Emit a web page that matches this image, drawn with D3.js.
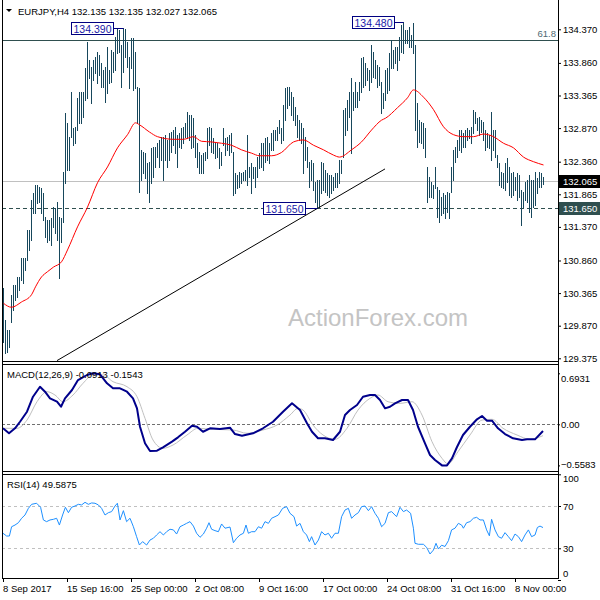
<!DOCTYPE html>
<html><head><meta charset="utf-8">
<script src="https://cdn.jsdelivr.net/npm/d3@7"></script>
<style>
body{margin:0;background:#fff}
svg{display:block}
text{font-family:"Liberation Sans",Arial,sans-serif}
</style>
</head><body>
<svg id="c" width="600" height="600"></svg>
<script>
// ---------- DATA ----------
const symbolTitle = "EURJPY,H4";
const lastOHLC = ["132.135","132.135","132.027","132.065"];
const highs = [
130.44,129.96,129.81,129.81,130.34,130.49,130.49,130.61,130.61,130.90,
130.90,130.90,131.32,131.32,131.78,131.89,132.01,132.01,131.98,131.96,
131.89,131.52,131.48,131.48,131.51,131.67,131.66,131.75,131.52,131.51,
132.20,133.10,132.95,132.74,133.42,132.87,132.89,133.33,133.42,133.42,
133.42,133.78,134.18,133.90,133.80,133.90,133.95,134.03,133.98,133.86,
133.75,133.80,134.10,133.75,134.06,134.03,134.25,134.37,134.36,134.13,
134.39,134.38,134.18,133.95,134.24,134.24,134.03,133.49,133.48,132.54,
132.51,132.49,132.34,132.36,132.57,132.58,132.58,132.64,132.69,132.74,
132.74,132.77,132.69,132.80,132.81,132.84,132.89,132.77,132.80,132.87,
132.89,132.95,133.12,133.07,133.07,133.02,132.77,132.64,132.51,132.46,
132.49,132.51,132.87,132.89,132.87,132.72,132.66,132.64,132.57,132.51,
132.87,132.72,132.74,132.77,132.80,132.51,132.19,132.16,132.20,132.19,
132.20,132.23,132.77,132.28,132.34,132.28,132.28,132.43,132.49,132.64,
132.64,132.72,132.74,132.64,132.80,132.84,132.84,132.89,132.99,
132.87,133.22,133.48,133.49,133.49,133.42,133.34,133.19,133.07,132.99,
132.95,132.87,132.74,132.58,132.36,132.39,132.34,132.05,132.08,132.08,
132.36,132.34,132.23,132.19,132.16,132.16,132.13,132.19,132.19,132.39,
132.39,133.15,133.18,133.30,133.42,133.63,133.42,133.57,133.42,133.57,
133.93,133.95,133.86,133.78,133.75,134.13,134.03,133.90,133.83,133.80,
133.57,133.40,133.75,133.78,134.01,134.21,134.06,134.10,134.10,134.25,
134.44,134.48,134.36,134.36,134.41,134.28,134.47,134.13,133.25,132.99,
132.96,132.95,132.87,132.28,132.13,132.05,132.01,132.28,131.98,131.93,
131.82,131.89,131.86,131.90,131.89,132.28,132.54,132.58,132.69,132.84,
132.84,132.80,132.84,132.87,132.84,132.89,133.15,133.11,133.02,133.04,
132.99,132.96,132.84,132.80,132.77,133.11,132.84,132.84,132.46,132.34,
132.20,132.19,132.34,132.42,132.28,132.19,132.20,132.13,132.19,132.16,
131.93,131.90,132.05,132.08,132.16,132.08,132.08,132.20,132.11,132.20,
132.19,132.135];
const lows = [
129.62,129.46,129.47,129.55,129.93,130.11,130.26,130.31,130.41,130.56,
130.52,130.72,130.87,131.02,131.17,131.58,131.58,131.73,131.75,131.58,
131.48,131.22,131.14,131.17,131.10,131.37,131.28,131.17,130.59,131.14,
131.45,132.04,132.23,132.23,132.74,132.61,132.64,132.84,132.95,132.95,
133.04,133.30,133.33,133.63,133.25,133.60,133.71,133.56,133.68,133.49,
133.49,133.27,133.40,133.56,133.57,133.72,133.75,134.01,134.03,133.49,
133.72,133.95,133.80,133.48,133.78,133.45,133.48,132.95,131.90,132.08,
132.19,132.11,131.89,131.75,132.04,132.13,132.28,132.43,132.28,132.39,
132.08,132.39,132.28,132.39,132.51,132.61,132.49,132.28,132.58,132.57,
132.64,132.74,132.72,132.69,132.57,132.58,132.43,132.28,132.19,132.19,
132.19,132.39,132.42,132.61,132.51,132.49,132.42,132.43,132.26,132.31,
132.61,132.46,132.54,132.46,132.51,131.86,131.89,131.96,131.98,132.04,
132.08,132.08,132.01,132.13,131.89,132.11,131.98,132.13,132.26,132.28,
132.23,132.36,132.39,132.34,132.54,132.54,132.69,132.69,132.80,
132.64,132.69,132.99,133.18,133.22,133.07,132.99,132.92,132.74,132.69,
132.64,132.19,132.39,132.28,131.98,132.08,131.93,131.75,131.65,131.67,
131.89,131.93,131.90,131.86,131.82,131.89,131.93,131.98,131.98,132.04,
132.19,132.43,132.77,132.84,133.04,132.49,133.15,133.19,133.19,133.30,
133.42,133.49,133.52,133.60,133.45,133.57,133.65,133.63,133.49,133.52,
133.10,133.18,133.30,133.40,133.45,133.78,133.78,133.86,133.75,133.90,
134.03,134.01,134.16,134.16,134.10,134.10,134.01,132.84,132.58,132.66,
132.64,132.57,132.43,131.75,131.82,131.82,131.81,131.96,131.52,131.45,
131.55,131.58,131.51,131.60,131.51,131.90,132.08,132.36,132.43,132.54,
132.51,132.58,132.58,132.69,132.72,132.64,132.80,132.95,132.84,132.77,
132.81,132.69,132.54,132.58,132.57,132.39,132.54,132.43,132.28,132.01,
131.98,131.96,131.93,132.05,131.86,131.82,131.86,131.93,131.78,131.82,
131.40,131.67,131.78,131.75,131.60,131.52,131.67,131.70,131.89,131.98,
131.98,132.027];

// moving average (sampled at bar positions)
const maIdx = [0,4,9,14,16,19,22,25,29,32,37,42,47,52,57,62,66,68,73,77,85,90,95,99,104,109,114,119,124,128,134,139,145,150,155,160,165,168,174,179,184,189,191,197,202,205,210,215,220,225,230,235,240,245,250,255,260,265,270];
const maVal = [130.21,130.15,130.23,130.34,130.46,130.61,130.69,130.76,130.84,131.02,131.37,131.67,132.04,132.28,132.57,132.77,132.95,132.92,132.81,132.74,132.70,132.70,132.74,132.67,132.66,132.64,132.61,132.54,132.49,132.45,132.45,132.50,132.66,132.69,132.61,132.54,132.46,132.43,132.54,132.66,132.84,132.99,133.02,133.18,133.33,133.45,133.34,133.15,132.89,132.77,132.74,132.74,132.78,132.74,132.64,132.57,132.43,132.36,132.31];

// MACD main line and signal
const macdIdx = [0,3,6,8.5,12,15,18.5,21,23.5,27,29,31,34.5,37.5,42,45,48.5,52,55,58.5,62,65,67,68.5,71,73.5,77,80,84.5,87.5,91,94.5,97,100,103.5,108.5,113.5,116,119.5,125,130,135,140,144.5,148.5,152,154.5,157.5,161,165,168.5,171,173.5,177,180,183.5,186,188.5,191,193.5,196,199.5,202.5,205,207.5,211,213.5,216,219.5,222,224.5,227,230,233.5,237,239.5,242,244.5,247.5,251,255,259.5,262,266,270];
const macdVal = [-0.054,-0.122,-0.054,0.035,0.171,0.375,0.511,0.443,0.353,0.307,0.239,0.353,0.466,0.602,0.670,0.693,0.680,0.557,0.489,0.489,0.443,0.353,0.217,-0.033,-0.258,-0.363,-0.359,-0.313,-0.236,-0.177,-0.101,-0.019,-0.033,-0.101,-0.054,-0.064,-0.046,-0.132,-0.155,-0.122,-0.054,0.035,0.171,0.285,0.194,0.014,-0.101,-0.190,-0.190,-0.213,-0.101,0.126,0.194,0.262,0.375,0.398,0.398,0.330,0.217,0.239,0.285,0.330,0.330,0.194,-0.033,-0.258,-0.417,-0.485,-0.558,-0.558,-0.462,-0.308,-0.145,-0.033,0.068,0.113,0.049,0.049,-0.054,-0.132,-0.190,-0.213,-0.204,-0.204,-0.091];
const sigIdx = [0,7,12,17,22,26,30,35,40,45,50,55,62,67,71,75,80,85,92,97.5,105,115,122,130,137,143.5,147.5,150,155,160,166,172,177.5,183.5,187.5,192.5,198.5,204.5,209.5,214.5,219.5,222.5,227.5,233.5,239.5,244.5,250,257,263.5,270];
const sigVal = [-0.054,-0.054,0.058,0.307,0.443,0.398,0.307,0.398,0.557,0.670,0.670,0.579,0.511,0.375,0.082,-0.213,-0.326,-0.281,-0.145,-0.054,-0.068,-0.077,-0.122,-0.077,-0.010,0.126,0.217,0.194,-0.010,-0.145,-0.204,-0.054,0.194,0.353,0.398,0.307,0.285,0.307,0.126,-0.236,-0.462,-0.539,-0.372,-0.145,0.058,0.068,-0.054,-0.145,-0.204,-0.154];

// RSI(14)
const rsiIdx = [0,1.8,3.2,4.3,6,7.7,9.3,11,12.7,14.3,16.8,18.8,20.2,21.8,23.5,25.2,26.8,28.2,29.8,31.2,32.7,34.3,36,37.7,39.3,41,42.7,44.3,46,47.7,49.3,51,52.7,54.3,56,57.2,58.5,60.2,61.8,63.5,65.2,66.8,68.2,69.8,71.8,73.5,75.2,76.8,78.5,80.2,81.8,83.5,85.2,86.8,88.5,90.2,91.8,93.5,95.2,96.8,98.5,100.2,101.8,103,104.3,106,107.7,109.3,111,113.5,115.2,116.8,118.5,120.2,121.5,122.7,124.3,126,127.7,129.3,131,132.7,134.3,136,137.7,139.8,141.8,143.5,145.5,146.8,148.5,150.2,151.8,153.2,154.3,156,157.7,159.3,161,162.7,164.3,166,167.7,169.3,171,172.7,174.3,176,177.7,179.3,181,182.7,184.3,186,187.7,189.3,191,192.7,194.3,196.8,198.5,200.2,201.8,203.8,205.2,206,207.7,210.2,211.8,213.5,215.2,216.5,217.7,219.3,221,222.7,224.3,226,227.7,229.3,230.2,231.8,233.5,235.2,236.8,238.5,240.2,241.8,243.2,244.3,246,247.7,249.3,251,252.7,254.3,256,257.7,259.3,261,262.7,264.3,266,267.2,268.5,270];
const rsiVal = [44.2,41.6,41.6,50.4,52.0,54.2,58.4,61.5,67.8,71.6,72.6,68.8,56.8,55.2,56.8,57.4,58.4,52.0,61.5,68.8,63.7,68.8,70.0,71.6,71.0,73.5,71.6,72.9,72.6,71.0,67.8,61.5,63.7,64.7,70.0,72.6,56.8,65.6,55.2,58.4,50.4,41.0,33.1,36.3,33.1,37.8,39.5,42.6,45.7,42.6,45.7,48.0,47.4,43.5,50.4,52.0,53.6,55.2,51.0,44.2,40.4,43.5,49.0,54.2,48.0,46.7,45.7,53.0,49.0,50.1,35.3,39.5,42.6,44.2,52.0,44.2,45.7,45.7,50.4,49.0,55.2,53.6,58.4,59.9,61.5,67.8,69.4,63.1,59.9,51.0,53.6,45.7,42.6,36.3,41.0,33.1,37.8,45.7,42.6,44.2,39.5,44.2,44.2,59.9,66.2,67.8,58.4,61.5,63.7,69.4,70.0,65.6,69.4,63.1,58.4,50.4,53.6,63.7,64.7,59.9,68.8,64.7,66.2,63.1,49.0,34.7,33.8,33.8,30.9,24.6,28.3,34.7,29.3,32.9,31.7,37.2,47.4,49.0,53.6,52.0,49.0,54.2,55.2,58.4,59.3,56.8,56.8,47.4,41.8,57.4,47.4,41.0,39.5,44.8,41.0,37.2,43.5,41.0,36.3,42.6,47.4,41.0,42.6,49.7,51.0,49.6];

// axes
const priceTicks = [134.370,133.860,133.365,132.870,132.360,131.865,131.370,130.860,130.365,129.870,129.375];
const macdTicks = [0.6931,0,-0.5583];
const rsiTicks = [100,70,30,0];
const timeIdx = [0,32,64,96,128,160,192,224,256];
const timeLabels = ["8 Sep 2017","15 Sep 16:00","25 Sep 00:00","2 Oct 08:00","9 Oct 16:00","17 Oct 00:00","24 Oct 08:00","31 Oct 16:00","8 Nov 00:00"];

// annotations
const highMarks = [{i:60,p:134.390},{i:200,p:134.480}];
const lowMark = {i:157,p:131.650};
const fibLevel = 134.203, fibLabel = "61.8";
const currentPrice = 132.065;
const supportLevel = 131.650;
const trendline = [{i:27,p:129.34},{i:191,p:132.25}];
const macdLabel = "MACD(12,26,9) -0.0913 -0.1543";
const rsiLabel = "RSI(14) 49.5875";

// ---------- DRAWING ----------
const svg = d3.select("#c");
const FONT = "'Liberation Sans', Arial, sans-serif";
const L = 2, R = 558;
const x = d3.scaleLinear().domain([0, 277.5]).range([3, 558]);
const px = i => Math.round(x(i)) + 0.5;
const yP = d3.scaleLinear().domain([129.375, 134.370]).range([358.3, 29.3]);
const yM = d3.scaleLinear().domain([-0.5583, 0.6931]).range([465.4, 373.3]);
const yR = d3.scaleLinear().domain([0, 100]).range([580, 474.3]);
const ry = v => Math.round(v) + 0.5;

const defs = svg.append("defs");
defs.append("clipPath").attr("id","cm").append("rect").attr("x",3).attr("y",0).attr("width",555).attr("height",361);
defs.append("clipPath").attr("id","cd").append("rect").attr("x",3).attr("y",365).attr("width",555).attr("height",106);
defs.append("clipPath").attr("id","cr").append("rect").attr("x",3).attr("y",475).attr("width",555).attr("height",103);

const main = svg.append("g").attr("clip-path","url(#cm)");

// horizontal reference lines
main.append("line").attr("x1",L).attr("x2",R).attr("y1",ry(yP(currentPrice))).attr("y2",ry(yP(currentPrice)))
  .attr("stroke","#c0c0c0");
main.append("line").attr("x1",L).attr("x2",R).attr("y1",ry(yP(fibLevel))).attr("y2",ry(yP(fibLevel)))
  .attr("stroke","#2f4f4f");
main.append("line").attr("x1",L).attr("x2",R).attr("y1",ry(yP(supportLevel))).attr("y2",ry(yP(supportLevel)))
  .attr("stroke","#2f4f4f").attr("stroke-dasharray","4,3");

// watermark
svg.append("text").attr("x",378).attr("y",326).attr("text-anchor","middle")
  .attr("font-family",FONT).attr("font-size",24).attr("fill","#c4c4c4").text("ActionForex.com");

// bars (high-low)
main.append("g").attr("shape-rendering","crispEdges").selectAll("line").data(highs).join("line")
  .attr("x1",(d,i)=>px(i)).attr("x2",(d,i)=>px(i))
  .attr("y1",d=>Math.round(yP(d))).attr("y2",(d,i)=>Math.round(yP(lows[i]))+1)
  .attr("stroke","#17475c").attr("stroke-width",1);

// moving average
main.append("path").datum(maIdx.map((d,k)=>[d,maVal[k]]))
  .attr("d", d3.line().x(d=>x(d[0])+0.5).y(d=>yP(d[1])).curve(d3.curveMonotoneX))
  .attr("fill","none").attr("stroke","#ff0000").attr("stroke-width",1);

// trendline (extended to panel bottom)
main.append("line").attr("x1",x(trendline[0].i)).attr("y1",yP(trendline[0].p))
  .attr("x2",x(trendline[1].i)).attr("y2",yP(trendline[1].p))
  .attr("stroke","#000").attr("stroke-width",1);

// high / low marker boxes
function markBox(i, p, boxRight, txt){
  const yy = ry(yP(p));
  const w = 42, h = 12;
  const g = svg.append("g");
  g.append("line").attr("x1",boxRight).attr("x2",px(i)).attr("y1",yy).attr("y2",yy).attr("stroke","#000080");
  g.append("rect").attr("x",boxRight-w+0.5).attr("y",yy-h/2).attr("width",w).attr("height",h)
    .attr("fill","#fff").attr("stroke","#000080");
  g.append("text").attr("x",boxRight-w/2+0.5).attr("y",yy+4).attr("text-anchor","middle")
    .attr("font-family",FONT).attr("font-size",10.5).attr("fill","#1a1aa8").text(txt);
}
markBox(highMarks[0].i, highMarks[0].p, 113, d3.format(".3f")(highMarks[0].p));
markBox(highMarks[1].i, highMarks[1].p, 394, d3.format(".3f")(highMarks[1].p));
markBox(lowMark.i, lowMark.p, 305, d3.format(".3f")(lowMark.p));

// fib label
svg.append("text").attr("x",556).attr("y",yP(fibLevel)-3).attr("text-anchor","end")
  .attr("font-family",FONT).attr("font-size",9.5).attr("fill","#4f6a72").text(fibLabel);

// title
svg.append("path").attr("d","M6,9 L12,9 L9,12 Z").attr("fill","#000");
svg.append("text").attr("x",18).attr("y",15).attr("font-family",FONT).attr("font-size",9.5).attr("fill","#000")
  .text(symbolTitle + "  " + lastOHLC.join(" "));

// ---- MACD panel ----
const md = svg.append("g").attr("clip-path","url(#cd)");
md.append("line").attr("x1",L).attr("x2",R).attr("y1",ry(yM(0))).attr("y2",ry(yM(0)))
  .attr("stroke","#707070").attr("stroke-dasharray","3,2");
md.append("path").datum(sigIdx.map((d,k)=>[d,sigVal[k]]))
  .attr("d", d3.line().x(d=>x(d[0])).y(d=>yM(d[1])).curve(d3.curveMonotoneX))
  .attr("fill","none").attr("stroke","#c0c0c0").attr("stroke-width",1);
md.append("path").datum(macdIdx.map((d,k)=>[d,macdVal[k]]))
  .attr("d", d3.line().x(d=>x(d[0])).y(d=>yM(d[1])))
  .attr("fill","none").attr("stroke","#00008b").attr("stroke-width",2).attr("stroke-linejoin","round");
svg.append("text").attr("x",7).attr("y",377.5).attr("font-family",FONT).attr("font-size",9.5).attr("fill","#000").text(macdLabel);

// ---- RSI panel ----
const rs = svg.append("g").attr("clip-path","url(#cr)");
[70,30].forEach(v=>{
  rs.append("line").attr("x1",L).attr("x2",R).attr("y1",ry(yR(v))).attr("y2",ry(yR(v)))
    .attr("stroke","#c0c0c0").attr("stroke-dasharray","3,3");
});
rs.append("path").datum(rsiIdx.map((d,k)=>[d,rsiVal[k]]))
  .attr("d", d3.line().x(d=>x(d[0])).y(d=>yR(d[1])))
  .attr("fill","none").attr("stroke","#1e90ff").attr("stroke-width",1);
svg.append("text").attr("x",7).attr("y",487.5).attr("font-family",FONT).attr("font-size",9.5).attr("fill","#000").text(rsiLabel);

// ---- frames ----
const fr = svg.append("g").attr("stroke","#000").attr("stroke-width",1).attr("shape-rendering","crispEdges");
fr.append("line").attr("x1",2.5).attr("x2",2.5).attr("y1",0).attr("y2",579);
fr.append("line").attr("x1",558.5).attr("x2",558.5).attr("y1",0).attr("y2",579);
[361.5,364.5,471.5,474.5,578.5].forEach(yy=>{
  fr.append("line").attr("x1",2).attr("x2",559).attr("y1",yy).attr("y2",yy);
});

// ---- axes ----
function styleAxis(g){
  g.select(".domain").remove();
  g.attr("font-family",FONT).attr("font-size",9.5);
  g.selectAll(".tick line").attr("stroke","#000");
  g.selectAll(".tick text").attr("fill","#000");
}
svg.append("g").attr("transform","translate(558,0)")
  .call(d3.axisRight(yP).tickValues(priceTicks).tickSize(3).tickPadding(2).tickFormat(d3.format(".3f")))
  .call(styleAxis);
const mAx = svg.append("g").attr("transform","translate(558,0)")
  .call(d3.axisRight(yM).tickValues(macdTicks).tickSize(2).tickPadding(1).tickFormat(d=>d===0?"0.00":d3.format(".4f")(d)))
  .call(styleAxis);
mAx.selectAll(".tick").filter(d=>d>0.5).select("text").attr("dy","0.9em");
mAx.selectAll(".tick").filter(d=>d<-0.5).select("text").attr("dy","0.2em");
const rAx = svg.append("g").attr("transform","translate(558,0)")
  .call(d3.axisRight(yR).tickValues(rsiTicks).tickSize(3).tickPadding(2))
  .call(styleAxis);
rAx.selectAll(".tick").filter(d=>d===100).select("text").attr("dy","0.8em");
rAx.selectAll(".tick").filter(d=>d===0).select("text").attr("dy","-0.4em");

const tAx = svg.append("g").attr("transform","translate(0,578)")
  .call(d3.axisBottom(x).tickValues(timeIdx).tickSize(4).tickPadding(3).tickFormat((d,k)=>timeLabels[k]))
  .call(styleAxis);
tAx.selectAll(".tick text").attr("text-anchor","start").attr("dx","-0.5");

// price tags on the axis
function tag(p, bg){
  const yy = Math.round(yP(p));
  svg.append("rect").attr("x",559).attr("y",yy-6).attr("width",41).attr("height",13).attr("fill",bg);
  svg.append("text").attr("x",563).attr("y",yy+4).attr("font-family",FONT).attr("font-size",9.5)
    .attr("fill","#fff").text(d3.format(".3f")(p));
}
tag(currentPrice, "#000");
tag(supportLevel, "#2f4f4f");
</script>
</body></html>
